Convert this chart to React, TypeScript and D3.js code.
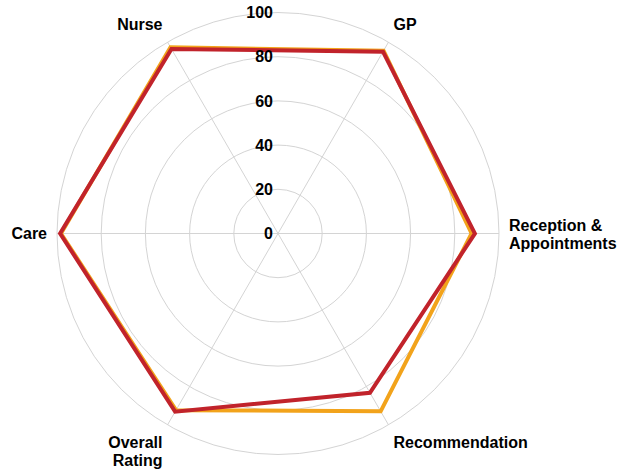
import React from "react";
import * as d3 from "d3";

const categories = ["GP", "Reception & Appointments", "Recommendation", "Overall Rating", "Care", "Nurse"];
const labelLines = [["GP"], ["Reception &", "Appointments"], ["Recommendation"], ["Overall", "Rating"], ["Care"], ["Nurse"]];
const seriesOrange = [95.5, 87.6, 92.9, 92.3, 98.2, 97.3];
const seriesRed = [95.0, 89.1, 83.2, 93.1, 98.6, 96.4];
const tickValues = [0, 20, 40, 60, 80, 100];

const W = 634, H = 472;
const cx = 278, cy = 233.5, R = 221;
const ORANGE = "#F2A31B";
const RED = "#C1232B";
const GRID = "#d4d4d4";

export default function App() {
  const r = d3.scaleLinear().domain([0, 100]).range([0, R]);
  const n = categories.length;
  const angle = (i: number) => (Math.PI / 3) * i + Math.PI / 6; // clockwise from top
  const pt = (i: number, v: number): [number, number] => [
    cx + r(v) * Math.sin(angle(i)),
    cy - r(v) * Math.cos(angle(i)),
  ];
  const line = d3.line<number>().x((v, i) => pt(i, v)[0]).y((v, i) => pt(i, v)[1]).curve(d3.curveLinearClosed);
  const font = "'Liberation Sans', Arial, sans-serif";

  return (
    <svg width={W} height={H} style={{ position: "absolute", left: 0, top: 0 }} fontFamily={font}>
      <rect width={W} height={H} fill="#fff" />
      {tickValues.filter((t) => t > 0).map((t) => (
        <circle key={t} cx={cx} cy={cy} r={r(t)} fill="none" stroke={GRID} strokeWidth={1} />
      ))}
      {categories.map((c, i) => {
        const [x, y] = pt(i, 100);
        return <line key={c} x1={cx} y1={cy} x2={x} y2={y} stroke={GRID} strokeWidth={1} />;
      })}
      <path d={line(seriesOrange) || ""} fill="none" stroke={ORANGE} strokeWidth={4} strokeLinejoin="miter" />
      <path d={line(seriesRed) || ""} fill="none" stroke={RED} strokeWidth={4} strokeLinejoin="miter" />
      {tickValues.map((t) => (
        <text key={t} x={cx - 5} y={cy - r(t) + 5.7} textAnchor="end" fontSize={16} fontWeight="bold" fill="#000">
          {t}
        </text>
      ))}
      {categories.map((c, i) => {
        const a = angle(i);
        const rr = R + 10;
        const x = cx + rr * Math.sin(a);
        const y = cy - rr * Math.cos(a);
        const s = Math.sin(a), co = Math.cos(a);
        const anchor = Math.abs(s) < 0.01 ? "middle" : s > 0 ? "start" : "end";
        const lines = labelLines[i];
        let y0: number;
        if (Math.abs(co) < 0.01) {
          y0 = lines.length === 1 ? y + 5.5 : y - 3;
        } else if (co > 0) {
          y0 = y - 3 - (lines.length - 1) * 18;
        } else {
          y0 = y + 14;
        }
        return (
          <text key={c} x={x} y={y0} textAnchor={anchor} fontSize={16} fontWeight="bold" fill="#000">
            {lines.map((l, k) => (
              <tspan key={k} x={x} y={y0 + k * 18}>{l}</tspan>
            ))}
          </text>
        );
      })}
    </svg>
  );
}
